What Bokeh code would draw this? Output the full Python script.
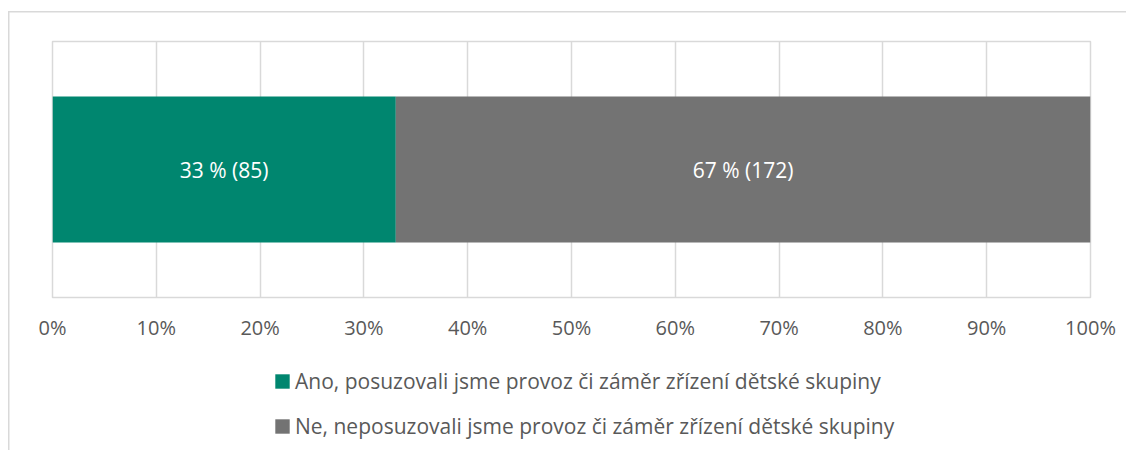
from bokeh.plotting import figure
from bokeh.layouts import column
from bokeh.models import (FixedTicker, CustomJSTickFormatter, Legend, LegendItem,
                          ColumnDataSource, LabelSet)
from bokeh.core.properties import value
from bokeh.embed import file_html
from bokeh.resources import INLINE

# ---- data ----
answers = ["Ano, posuzovali jsme provoz či záměr zřízení dětské skupiny",
           "Ne, neposuzovali jsme provoz či záměr zřízení dětské skupiny"]
counts = [85, 172]
colors = ["#00866F", "#737373"]
tick_values = [0, 10, 20, 30, 40, 50, 60, 70, 80, 90, 100]

total = sum(counts)
pct = [c / total * 100 for c in counts]
lefts, rights = [], []
acc = 0
for v in pct:
    lefts.append(acc)
    acc += v
    rights.append(acc)
labels = [f"{round(v)} % ({c})" for v, c in zip(pct, counts)]

FONT = "Open Sans"
TXT = "#595959"
BORDER = "#d9d9d9"
W = 1126

p = figure(width=W, height=350, x_range=(0, 100), y_range=(0, 1),
           output_backend="svg", toolbar_location=None,
           min_border_left=52, min_border_right=W - 1090, min_border_top=41,
           min_border_bottom=53)
p.background_fill_color = "white"
p.border_fill_color = None
p.outline_line_color = BORDER
p.outline_line_width = 1.5
p.styles = {
    "background": (f"linear-gradient({BORDER},{BORDER}) 8px 11px / 100% 1.5px no-repeat, "
                   f"linear-gradient({BORDER},{BORDER}) 8px 11px / 1.5px 100% no-repeat")
}

src = ColumnDataSource(dict(left=lefts, right=rights, y=[0.5, 0.5], color=colors,
                            label=labels, mid=[(a + b) / 2 for a, b in zip(lefts, rights)]))
p.hbar(y="y", left="left", right="right", height=0.57, color="color",
       line_color=None, source=src)

p.add_layout(LabelSet(x="mid", y="y", text="label", source=src,
                      text_align="center", text_baseline="middle",
                      text_color="white", text_font=value(FONT),
                      text_font_size="21px"))

p.yaxis.visible = False
p.ygrid.visible = False
p.xgrid.ticker = FixedTicker(ticks=tick_values)
p.xgrid.grid_line_color = BORDER
p.xgrid.grid_line_width = 1.5

ax = p.xaxis[0]
ax.ticker = FixedTicker(ticks=tick_values)
ax.formatter = CustomJSTickFormatter(code="return tick + '%';")
ax.axis_line_color = None
ax.major_tick_line_color = None
ax.minor_tick_line_color = None
ax.major_label_standoff = 10
ax.major_label_text_font = FONT
ax.major_label_text_font_size = "20px"
ax.major_label_text_color = TXT

# ---- legend figure (its bars sit outside its visible range; only the legend shows) ----
p2 = figure(width=W, height=100, x_range=(0, 100), y_range=(10, 11),
            output_backend="svg", toolbar_location=None,
            min_border=0, min_border_left=0, min_border_right=0,
            min_border_top=0, min_border_bottom=0)
p2.axis.visible = False
p2.grid.visible = False
p2.outline_line_color = None
p2.background_fill_color = None
p2.border_fill_color = None
p2.styles = {
    "background": f"linear-gradient({BORDER},{BORDER}) 8px 0px / 1.5px 100% no-repeat"
}
rr = p2.hbar(y="y", left="left", right="right", height=0.57, color="color",
             line_color=None, source=src)
items = [LegendItem(label=name, renderers=[rr], index=i) for i, name in enumerate(answers)]
legend = Legend(items=items, location=(221, 10), orientation="vertical",
                glyph_width=18, glyph_height=18, label_standoff=4, spacing=17,
                padding=0, margin=0, label_height=20,
                label_text_font=FONT, label_text_font_size="21px",
                label_text_color=TXT, border_line_color=None,
                background_fill_alpha=0)
p2.add_layout(legend, "center")

open("out.html", "w").write(file_html(column(p, p2, spacing=0), INLINE))
